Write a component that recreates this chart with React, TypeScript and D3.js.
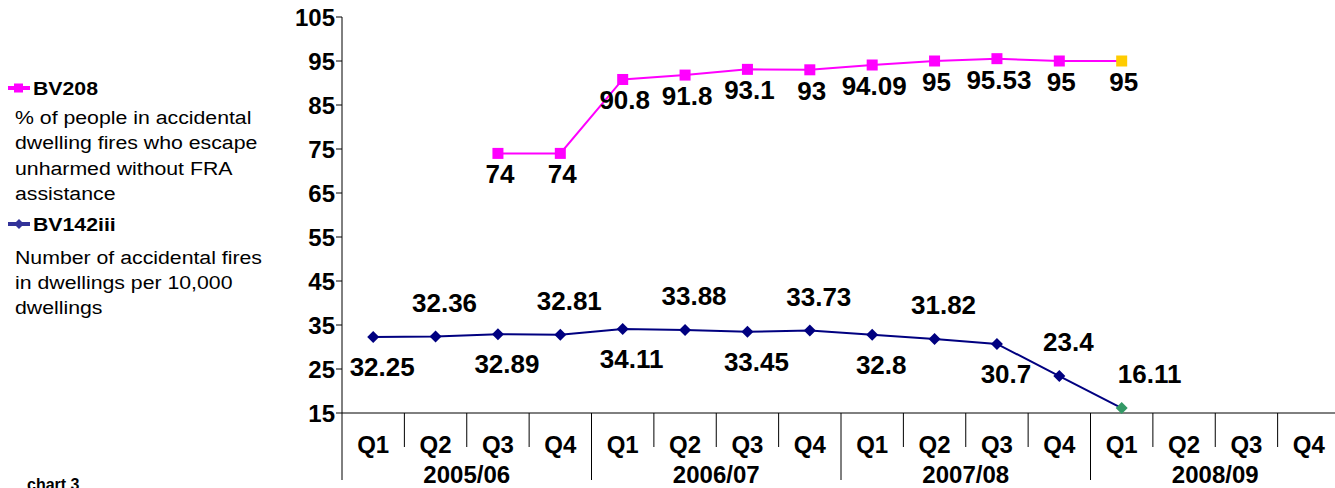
import * as d3 from "d3";
import React from "react";

const quarters = ["Q1", "Q2", "Q3", "Q4", "Q1", "Q2", "Q3", "Q4", "Q1", "Q2", "Q3", "Q4", "Q1", "Q2", "Q3", "Q4"];
const years = ["2005/06", "2006/07", "2007/08", "2008/09"];
const bv208: (number | null)[] = [null, null, 74, 74, 90.8, 91.8, 93.1, 93, 94.09, 95, 95.53, 95, 95, null, null, null];
const bv142: (number | null)[] = [32.25, 32.36, 32.89, 32.81, 34.11, 33.88, 33.45, 33.73, 32.8, 31.82, 30.7, 23.4, 16.11, null, null, null];
// label placement for BV142iii: 1 = below, -1 = above
const bv142Side = [1, -1, 1, -1, 1, -1, 1, -1, 1, -1, 1, -1, -1];
const yTicks = [15, 25, 35, 45, 55, 65, 75, 85, 95, 105];
const legend208 = ["% of people in accidental", "dwelling fires who escape", "unharmed without FRA", "assistance"];
const legend142 = ["Number of accidental fires", "in dwellings per 10,000", "dwellings"];

const W = 1335;
const H = 488;
const left = 342;
const right = 1340;
const top = 17;
const bottom = 413;

const PINK = "#ff00ff";
const NAVY = "#000080";
const FONT = "Arial, 'Liberation Sans', sans-serif";
const SX = 1.12; // legend text is a little wider than the font

export default function App() {
  const x = d3.scaleBand<number>().domain(d3.range(quarters.length)).range([left, right]);
  const y = d3.scaleLinear().domain([15, 105]).range([bottom, top]);
  const cx = (i: number) => (x(i) ?? 0) + x.bandwidth() / 2;

  const line = d3
    .line<number | null>()
    .defined((d) => d !== null)
    .x((_, i) => cx(i))
    .y((d) => y(d as number));

  const lastPink = bv208.reduce((a, d, i) => (d !== null ? i : a), -1);
  const lastNavy = bv142.reduce((a, d, i) => (d !== null ? i : a), -1);

  return (
    <svg width={W} height={H} style={{ position: "absolute", left: 0, top: 0, fontFamily: FONT }}>
      <rect width={W} height={H} fill="#fff" />

      {/* y axis */}
      <line x1={left} x2={left} y1={top} y2={bottom} stroke="#000" />
      {yTicks.map((t) => (
        <g key={t}>
          <line x1={left - 6} x2={left} y1={y(t)} y2={y(t)} stroke="#000" />
          <text x={left - 7} y={y(t) + 9} textAnchor="end" fontSize={24} fontWeight="bold">
            {t}
          </text>
        </g>
      ))}

      {/* x axis */}
      <line x1={left} x2={W} y1={bottom} y2={bottom} stroke="#000" />
      {quarters.map((q, i) => (
        <g key={i}>
          {i > 0 && (
            <line
              x1={x(i)}
              x2={x(i)}
              y1={bottom}
              y2={i % 4 === 0 ? 480 : 447}
              stroke="#000"
            />
          )}
          <text x={cx(i)} y={453} textAnchor="middle" fontSize={24} fontWeight="bold">
            {q}
          </text>
        </g>
      ))}
      <line x1={left} x2={left} y1={bottom} y2={480} stroke="#000" />
      {years.map((yr, k) => (
        <text
          key={yr}
          x={((x(k * 4) ?? 0) + (x(k * 4 + 3) ?? 0) + x.bandwidth()) / 2}
          y={483}
          textAnchor="middle"
          fontSize={24}
          fontWeight="bold"
        >
          {yr}
        </text>
      ))}

      {/* BV208 */}
      <path d={line(bv208) ?? ""} fill="none" stroke={PINK} strokeWidth={2} />
      {bv208.map((d, i) =>
        d === null ? null : (
          <g key={i}>
            <rect
              x={cx(i) - 5.5}
              y={y(d) - 5.5}
              width={11}
              height={11}
              fill={i === lastPink ? "#ffcc00" : PINK}
            />
            <text x={cx(i) + 2} y={y(d) + 30} textAnchor="middle" fontSize={26} fontWeight="bold">
              {d}
            </text>
          </g>
        )
      )}

      {/* BV142iii */}
      <path d={line(bv142) ?? ""} fill="none" stroke={NAVY} strokeWidth={2} />
      {bv142.map((d, i) =>
        d === null ? null : (
          <g key={i}>
            <path
              d="M0,-6L6,0L0,6L-6,0Z"
              transform={`translate(${cx(i)},${y(d)})`}
              fill={i === lastNavy ? "#339966" : NAVY}
            />
            <text
              x={cx(i) + (i === lastNavy ? 28 : 9)}
              y={bv142Side[i] > 0 ? y(d) + 39 : y(d) - 25}
              textAnchor="middle"
              fontSize={26}
              fontWeight="bold"
            >
              {d}
            </text>
          </g>
        )
      )}

      {/* legend */}
      <line x1={8} x2={30} y1={88} y2={88} stroke={PINK} strokeWidth={4} />
      <rect x={14} y={83.5} width={9} height={9} fill={PINK} />
      <g transform={`scale(${SX},1)`}>
        <text x={33 / SX} y={95} fontSize={19} fontWeight="bold">BV208</text>
        {legend208.map((s, i) => (
          <text key={s} x={15 / SX} y={124 + i * 25.5} fontSize={19}>
            {s}
          </text>
        ))}
        <text x={33 / SX} y={231} fontSize={19} fontWeight="bold">BV142iii</text>
        {legend142.map((s, i) => (
          <text key={s} x={15 / SX} y={264 + i * 25} fontSize={19}>
            {s}
          </text>
        ))}
      </g>
      <line x1={8} x2={30} y1={224} y2={224} stroke="#333399" strokeWidth={4} />
      <path d="M0,-5L5,0L0,5L-5,0Z" transform="translate(19,224)" fill="#333399" />

      <text x={27} y={490} fontSize={16} fontWeight="bold">chart 3</text>
    </svg>
  );
}
